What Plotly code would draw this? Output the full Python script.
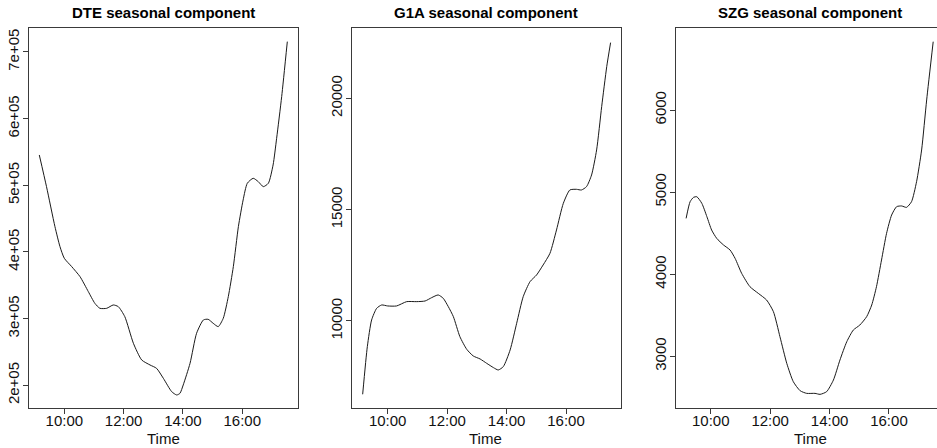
import plotly.graph_objects as go

# Seasonal components of three series, time of day in decimal hours
dte_hours = [9.157, 9.40, 9.685, 9.854, 10.0, 10.25, 10.53, 10.81, 11.03, 11.2, 11.43,
             11.65, 11.82, 12.04, 12.33, 12.61, 12.89, 13.11, 13.34, 13.62, 13.79, 13.9,
             14.01, 14.24, 14.46, 14.69, 14.85, 15.02, 15.19, 15.36, 15.53, 15.70, 15.87,
             16.03, 16.17, 16.37, 16.54, 16.71, 16.88, 17.04, 17.16, 17.33, 17.52]
dte_values = [545500, 498000, 438000, 408000, 390500, 378000, 363000, 340500, 323000,
              315500, 315500, 320500, 318000, 303000, 263000, 238000, 230500, 225500,
              210500, 190500, 185500, 188000, 200500, 233000, 278000, 298000, 299000,
              293000, 288000, 300500, 333000, 378000, 438000, 478000, 503000, 510500,
              505500, 498000, 503000, 530500, 570500, 633000, 715500]

g1a_hours = [9.159, 9.316, 9.46, 9.63, 9.80, 10.0, 10.30, 10.64, 10.98, 11.26, 11.48,
             11.70, 11.87, 12.04, 12.21, 12.43, 12.66, 12.88, 13.11, 13.33, 13.56, 13.72,
             13.89, 14.12, 14.34, 14.56, 14.79, 15.01, 15.23, 15.46, 15.68, 15.91, 16.13,
             16.35, 16.52, 16.69, 16.86, 17.03, 17.20, 17.37, 17.50]
g1a_values = [6707, 8847, 10045, 10569, 10719, 10674, 10674, 10868, 10868, 10898, 11048,
              11168, 11018, 10644, 10195, 9296, 8728, 8428, 8293, 8099, 7904, 7799,
              7949, 8698, 9895, 11093, 11766, 12066, 12515, 13039, 14087, 15284, 15883,
              15913, 15883, 16033, 16557, 17680, 19626, 21422, 22500]

szg_hours = [9.17, 9.305, 9.42, 9.53, 9.70, 9.87, 10.03, 10.20, 10.43, 10.65, 10.82,
             11.04, 11.32, 11.60, 11.88, 12.11, 12.33, 12.56, 12.78, 13.01, 13.23, 13.51,
             13.68, 13.90, 14.13, 14.35, 14.58, 14.80, 15.02, 15.25, 15.42, 15.58, 15.75,
             15.92, 16.09, 16.26, 16.43, 16.59, 16.76, 16.93, 17.10, 17.27, 17.49]
szg_values = [4680, 4883, 4936, 4944, 4863, 4701, 4538, 4437, 4356, 4295, 4193,
              4011, 3848, 3767, 3686, 3544, 3239, 2914, 2691, 2581, 2549, 2549,
              2537, 2569, 2711, 2955, 3178, 3320, 3381, 3483, 3625, 3848, 4173,
              4498, 4721, 4823, 4831, 4814, 4883, 5127, 5513, 6122, 6832]

panel_titles = ["DTE seasonal component", "G1A seasonal component", "SZG seasonal component"]

x_tickvals = [10, 12, 14, 16]
x_ticktext = ["10:00", "12:00", "14:00", "16:00"]

dte_tickvals = [200000, 300000, 400000, 500000, 600000, 700000]
dte_ticktext = ["2e+05", "3e+05", "4e+05", "5e+05", "6e+05", "7e+05"]
g1a_tickvals = [10000, 15000, 20000]
szg_tickvals = [3000, 4000, 5000, 6000]

W, H = 937, 448
FONT = "Liberation Sans, Arial, sans-serif"
AXIS_COLOR = "#3a3a3a"

fig = go.Figure()

series = [(dte_hours, dte_values), (g1a_hours, g1a_values), (szg_hours, szg_values)]
for i, (xs, ys) in enumerate(series):
    sfx = "" if i == 0 else str(i + 1)
    fig.add_trace(go.Scatter(
        x=xs, y=ys, mode="lines",
        line=dict(color="#1a1a1a", width=1, shape="spline", smoothing=0.6),
        xaxis="x" + sfx, yaxis="y" + sfx, showlegend=False, hoverinfo="skip",
    ))

# Plot boxes in pixel coordinates (left, right); all share the same top/bottom
boxes = [(29.3, 297.7), (351.7, 620.7), (676.0, 937.0)]
top_px, bottom_px = 28.3, 408.3
y_dom = [1 - bottom_px / H, 1 - top_px / H]

x_ranges = [[8.82, 17.87], [8.79, 17.84], [8.83, 17.618]]
y_ranges = [[165500, 735500], [6078, 23144], [2367, 6995]]
y_ticks = [
    (dte_tickvals, dte_ticktext),
    (g1a_tickvals, [str(v) for v in g1a_tickvals]),
    (szg_tickvals, [str(v) for v in szg_tickvals]),
]

tick_font = dict(family=FONT, size=15, color="#111")
layout = {}
for i, (l, r) in enumerate(boxes):
    sfx = "" if i == 0 else str(i + 1)
    layout["xaxis" + sfx] = dict(
        domain=[l / W, r / W], range=x_ranges[i], anchor="y" + sfx,
        tickvals=x_tickvals, ticktext=x_ticktext, ticks="outside", ticklen=5,
        tickcolor=AXIS_COLOR, tickwidth=1, showgrid=False, zeroline=False,
        showline=True, linecolor=AXIS_COLOR, linewidth=1, mirror=True,
        tickfont=tick_font, fixedrange=True, ticklabelstandoff=-6,
    )
    layout["yaxis" + sfx] = dict(
        domain=y_dom, range=y_ranges[i], anchor="x" + sfx,
        tickvals=y_ticks[i][0], ticktext=y_ticks[i][1], tickangle=-90,
        ticks="outside", ticklen=5, tickcolor=AXIS_COLOR, tickwidth=1,
        showgrid=False, zeroline=False, showline=True, linecolor=AXIS_COLOR,
        linewidth=1, mirror=(i < 2), tickfont=tick_font, fixedrange=True,
        ticklabelstandoff=-2,
    )

annotations = []
for i, (l, r) in enumerate(boxes):
    full_r = l + 268.5
    cx = (l + full_r) / 2 / W
    annotations.append(dict(
        text="<b>" + panel_titles[i] + "</b>", x=cx, y=1 - 12 / H,
        xref="paper", yref="paper", showarrow=False, xanchor="center", yanchor="middle",
        font=dict(family=FONT, size=15, color="#000"),
    ))
    annotations.append(dict(
        text="Time", x=cx, y=1 - 438 / H, xref="paper", yref="paper",
        showarrow=False, xanchor="center", yanchor="middle",
        font=dict(family=FONT, size=15, color="#111"),
    ))

fig.update_layout(
    width=W, height=H, margin=dict(l=0, r=0, t=0, b=0),
    paper_bgcolor="white", plot_bgcolor="white",
    annotations=annotations, **layout,
)

fig.write_html("out.html")
